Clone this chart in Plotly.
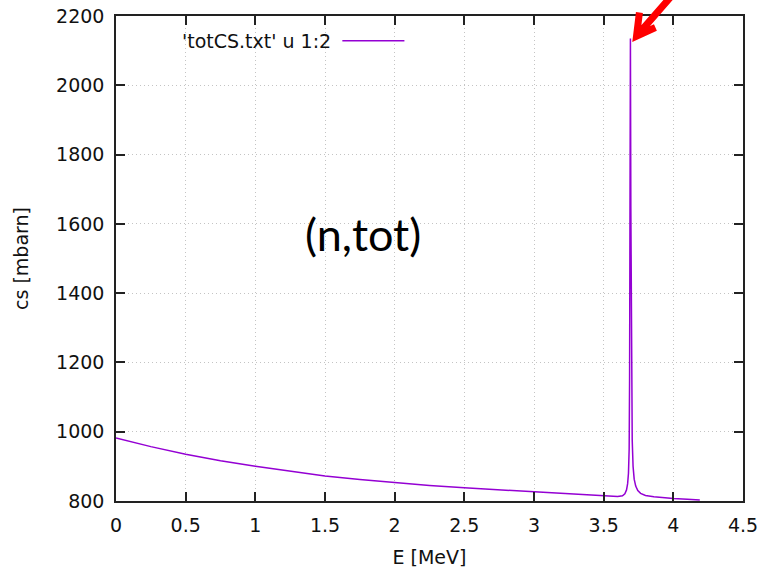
import plotly.graph_objects as go

# Total neutron cross section, smooth part below the resonance
energy_smooth = [0.0, 0.25, 0.5, 0.75, 1.0, 1.25, 1.5, 1.75, 2.0, 2.25, 2.5,
                 2.75, 3.0, 3.25, 3.5, 3.6, 3.635, 3.652]
cs_smooth = [982, 957, 935, 916, 900, 885, 872, 862, 853, 845, 838,
             832, 826, 821, 815, 813, 815, 821]

# Resonance region and tail
energy_peak = [3.664, 3.672, 3.678, 3.683, 3.686, 3.689, 3.692, 3.695, 3.698,
               3.701, 3.705, 3.711, 3.719, 3.73, 3.745, 3.765, 3.8, 3.86, 3.93, 4.0, 4.1, 4.19]
cs_peak = [832, 850, 880, 950, 1150, 1650, 2135, 1650, 1250,
           1080, 975, 900, 863, 843, 830, 822, 816, 812, 809, 807, 805, 803]

energy = energy_smooth + energy_peak
cs = cs_smooth + cs_peak

x_ticks = [0, 0.5, 1, 1.5, 2, 2.5, 3, 3.5, 4, 4.5]
y_ticks = [800, 1000, 1200, 1400, 1600, 1800, 2000, 2200]

series_name = "'totCS.txt' u 1:2"
line_color = "#9400d3"
font_family = "DejaVu Sans"
text_color = "#111111"

x_range = [0, 4.5]
y_range = [800, 2200]

fig = go.Figure()
fig.add_trace(go.Scatter(
    x=energy, y=cs, mode="lines", name=series_name,
    line=dict(color=line_color, width=1.5), showlegend=False,
))

axis_style = dict(
    showline=True, linecolor="#222222", linewidth=1.5, mirror="ticks",
    ticks="inside", ticklen=9, tickwidth=1.5, tickcolor="#222222",
    showgrid=True, gridcolor="#c4c4c4", gridwidth=1, griddash="1px,3px",
    zeroline=False, ticklabeloverflow="allow",
    tickfont=dict(family=font_family, size=19, color=text_color),
)

fig.update_xaxes(
    range=x_range, tickvals=x_ticks, ticktext=[f"{v:g}" for v in x_ticks],
    ticklabelstandoff=6,
    title=dict(text="E [MeV]", font=dict(family=font_family, size=19, color=text_color),
               standoff=16),
    **axis_style,
)
fig.update_yaxes(
    range=y_range, tickvals=y_ticks, ticktext=[str(v) for v in y_ticks],
    ticklabelstandoff=6,
    title=dict(text="cs [mbarn]", font=dict(family=font_family, size=19, color=text_color),
               standoff=22),
    **axis_style,
)

# Key: label followed by a line sample, top of the plot
fig.add_annotation(
    xref="paper", yref="paper", x=0.346, y=0.949, xanchor="right", yanchor="middle",
    text=series_name, showarrow=False,
    font=dict(family=font_family, size=19, color=text_color),
)
fig.add_shape(
    type="line", xref="paper", yref="paper", x0=0.361, x1=0.460, y0=0.949, y1=0.949,
    line=dict(color=line_color, width=1.5),
)

# Reaction label
fig.add_annotation(
    x=1.77, y=1570, text="(n,tot)", showarrow=False,
    font=dict(family="Lato", size=45, color="#000000"),
)

# Red open arrow pointing at the resonance peak; anchored (in paper units) at the
# peak maximum so it can run past the top of the frame, sized in pixels.
peak_cs = max(cs_peak)
peak_e = energy_peak[cs_peak.index(peak_cs)]
fig.add_shape(
    type="path", xref="paper", yref="paper",
    xsizemode="pixel", ysizemode="pixel",
    xanchor=(peak_e - x_range[0]) / (x_range[1] - x_range[0]),
    yanchor=(peak_cs - y_range[0]) / (y_range[1] - y_range[0]),
    path="M 9,26 L 6.1,2.4 L 25,11 M 6.1,2.4 L 52,55",
    line=dict(color="#ff0000", width=7),
    fillcolor="rgba(0,0,0,0)",
    layer="above",
)

fig.update_layout(
    width=762, height=571,
    margin=dict(l=116, r=19, t=16, b=70, autoexpand=False),
    paper_bgcolor="white", plot_bgcolor="white",
)

fig.write_html("out.html")
